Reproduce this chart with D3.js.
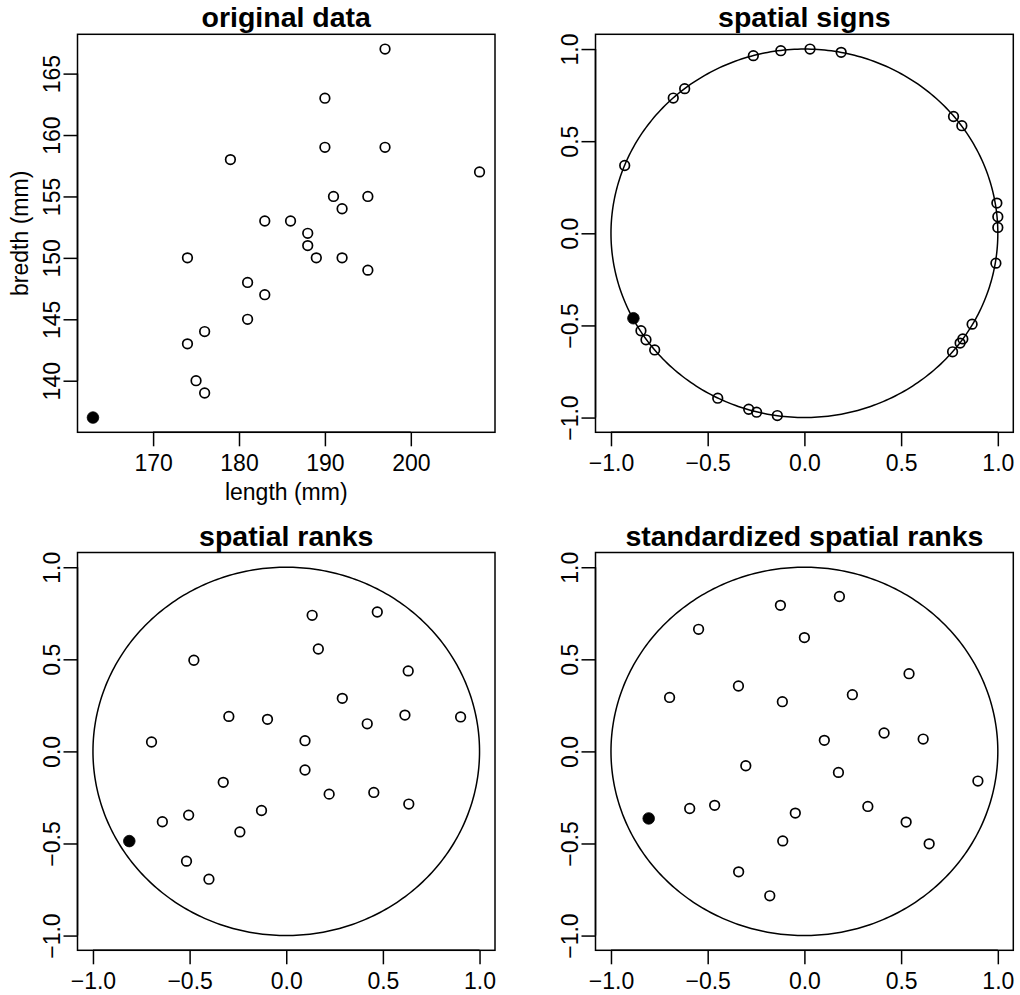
<!DOCTYPE html>
<html>
<head>
<meta charset="utf-8">
<script src="https://cdn.jsdelivr.net/npm/d3@7"></script>
<style>
  html, body { margin: 0; padding: 0; background: #fff; }
  svg { display: block; font-family: "Liberation Sans", Arial, Helvetica, sans-serif; }
</style>
</head>
<body>
<svg id="chart" width="1020" height="995"></svg>
<script>
// original data: head length / breadth (mm)
const lengthMm = [191, 195, 181, 183, 176, 208, 189, 197, 188, 192, 179, 183, 174, 190, 188, 163, 195, 186, 181, 175, 192, 174, 176, 197, 190];
const breadthMm = [155, 149, 148, 153, 144, 157, 150, 159, 152, 150, 158, 147, 150, 159, 151, 137, 155, 153, 145, 140, 154, 143, 139, 167, 163];
const originalHighlight = 15;

// spatial signs (first point is the highlighted one)
const signX = [-0.884, -0.264, -0.122, 0.029, 0.190, -0.678, -0.619, 0.771, 0.814, -0.929, 0.995, 1.000, 1.000, 0.990, -0.845, -0.819, -0.774, 0.867, 0.819, 0.805, 0.766, -0.448, -0.288, -0.247, -0.140];
const signY = [-0.461, 0.964, 0.991, 1.000, 0.982, 0.734, 0.785, 0.634, 0.584, 0.368, 0.164, 0.090, 0.032, -0.162, -0.529, -0.578, -0.633, -0.493, -0.573, -0.596, -0.643, -0.895, -0.955, -0.971, -0.989];

// spatial ranks
const rankX = [-0.812, 0.134, 0.471, 0.166, -0.478, 0.631, 0.290, -0.297, -0.097, 0.614, 0.902, 0.419, -0.697, 0.097, 0.097, -0.326, 0.222, 0.453, 0.634, -0.128, -0.505, -0.641, -0.240, -0.516, -0.400];
const rankY = [-0.487, 0.739, 0.757, 0.556, 0.495, 0.437, 0.288, 0.190, 0.174, 0.197, 0.187, 0.150, 0.051, 0.058, -0.101, -0.168, -0.232, -0.223, -0.286, -0.321, -0.346, -0.382, -0.437, -0.596, -0.694];

// standardized spatial ranks
const stdRankX = [-0.805, 0.181, -0.124, -0.547, 0.000, 0.541, -0.341, -0.697, -0.114, 0.248, 0.412, 0.614, 0.103, -0.303, 0.176, 0.897, -0.464, -0.593, 0.328, -0.047, 0.526, -0.112, 0.645, -0.340, -0.179];
const stdRankY = [-0.364, 0.841, 0.793, 0.663, 0.618, 0.422, 0.355, 0.293, 0.270, 0.308, 0.100, 0.067, 0.060, -0.078, -0.114, -0.161, -0.293, -0.310, -0.299, -0.335, -0.384, -0.486, -0.502, -0.654, -0.784];

const unitTicks = [-1.0, -0.5, 0.0, 0.5, 1.0];
const lengthTicks = [170, 180, 190, 200];
const breadthTicks = [140, 145, 150, 155, 160, 165];

const svg = d3.select('#chart');
const TICK_FONT = 23;
const TITLE_FONT = 28.5;
const LINE_W = 1.5;
const fmtUnit = (d) => d3.format('.1f')(d).replace('-', '\u2212');

// R style range: data range expanded by 4% each side
function rDomain(vals) {
    const [lo, hi] = d3.extent(vals);
    const pad = (hi - lo) * 0.04;
    return [lo - pad, hi + pad];
}

function drawPanel(p) {
    const x = d3.scaleLinear().domain(p.xDomain).range([p.left, p.right]);
    const y = d3.scaleLinear().domain(p.yDomain).range([p.bottom, p.top]);
    const g = svg.append('g');

    // unit circle
    if (p.circle) {
        const angles = d3.range(0, 361, 1).map((a) => (a * Math.PI) / 180);
        const line = d3
            .line()
            .x((a) => x(Math.cos(a)))
            .y((a) => y(Math.sin(a)));
        g.append('path')
            .attr('d', line(angles))
            .attr('fill', 'none')
            .attr('stroke', '#000')
            .attr('stroke-width', LINE_W);
    }

    // points
    g.append('g')
        .selectAll('circle')
        .data(p.xs.map((v, i) => ({ x: v, y: p.ys[i], hi: i === p.highlight })))
        .enter()
        .append('circle')
        .attr('cx', (d) => x(d.x))
        .attr('cy', (d) => y(d.y))
        .attr('r', (d) => (d.hi ? 5.8 : 4.8))
        .attr('fill', (d) => (d.hi ? '#000' : 'none'))
        .attr('stroke', '#000')
        .attr('stroke-width', (d) => (d.hi ? 0.8 : 1.7));

    // box
    g.append('rect')
        .attr('x', p.left)
        .attr('y', p.top)
        .attr('width', p.right - p.left)
        .attr('height', p.bottom - p.top)
        .attr('fill', 'none')
        .attr('stroke', '#000')
        .attr('stroke-width', LINE_W);

    // x axis
    const xAxis = d3
        .axisBottom(x)
        .tickValues(p.xTicks)
        .tickSize(14)
        .tickPadding(6)
        .tickFormat(p.fmt);
    const gx = g.append('g').attr('transform', `translate(0,${p.bottom})`).call(xAxis);
    gx.select('.domain')
        .attr('d', `M${x(p.xTicks[0])},0H${x(p.xTicks[p.xTicks.length - 1])}`)
        .attr('stroke-width', LINE_W);
    gx.selectAll('.tick line').attr('stroke-width', LINE_W);
    gx.selectAll('.tick text')
        .attr('font-size', TICK_FONT)
        .attr('font-family', '"Liberation Sans", Arial, sans-serif')
        .attr('fill', '#000')
        .attr('dy', null)
        .attr('y', 38.4);

    // y axis (rotated labels, like R las=0)
    const yAxis = d3.axisLeft(y).tickValues(p.yTicks).tickSize(14).tickFormat(p.fmt);
    const gy = g.append('g').attr('transform', `translate(${p.left},0)`).call(yAxis);
    gy.select('.domain')
        .attr('d', `M0,${y(p.yTicks[0])}V${y(p.yTicks[p.yTicks.length - 1])}`)
        .attr('stroke-width', LINE_W);
    gy.selectAll('.tick line').attr('stroke-width', LINE_W);
    gy.selectAll('.tick text')
        .attr('font-size', TICK_FONT)
        .attr('font-family', '"Liberation Sans", Arial, sans-serif')
        .attr('fill', '#000')
        .attr('x', null)
        .attr('dy', null)
        .attr('text-anchor', 'middle')
        .attr('transform', 'translate(-18,0) rotate(-90)');

    // title
    svg.append('text')
        .attr('x', (p.left + p.right) / 2)
        .attr('y', p.top - 7)
        .attr('text-anchor', 'middle')
        .attr('font-weight', 'bold')
        .attr('font-size', TITLE_FONT)
        .text(p.title);

    if (p.xlab) {
        svg.append('text')
            .attr('x', (p.left + p.right) / 2)
            .attr('y', p.bottom + 68)
            .attr('text-anchor', 'middle')
            .attr('font-size', TICK_FONT)
            .text(p.xlab);
    }
    if (p.ylab) {
        svg.append('text')
            .attr('transform', `translate(${p.left - 50},${(p.top + p.bottom) / 2}) rotate(-90)`)
            .attr('text-anchor', 'middle')
            .attr('font-size', TICK_FONT)
            .text(p.ylab);
    }
}

const unitDomain = rDomain([-1, 1]);

drawPanel({
    title: 'original data',
    left: 77.5, right: 495, top: 34.3, bottom: 432.3,
    xs: lengthMm, ys: breadthMm, highlight: originalHighlight,
    xDomain: rDomain(lengthMm), yDomain: rDomain(breadthMm),
    xTicks: lengthTicks, yTicks: breadthTicks, fmt: d3.format('d'),
    xlab: 'length (mm)', ylab: 'bredth (mm)'
});
drawPanel({
    title: 'spatial signs',
    left: 595.5, right: 1013.3, top: 34.3, bottom: 432.3,
    xs: signX, ys: signY, highlight: 0, circle: true,
    xDomain: unitDomain, yDomain: unitDomain,
    xTicks: unitTicks, yTicks: unitTicks, fmt: fmtUnit
});
drawPanel({
    title: 'spatial ranks',
    left: 77.5, right: 495, top: 552.5, bottom: 950.3,
    xs: rankX, ys: rankY, highlight: 0, circle: true,
    xDomain: unitDomain, yDomain: unitDomain,
    xTicks: unitTicks, yTicks: unitTicks, fmt: fmtUnit
});
drawPanel({
    title: 'standardized spatial ranks',
    left: 595.5, right: 1013.3, top: 552.5, bottom: 950.3,
    xs: stdRankX, ys: stdRankY, highlight: 0, circle: true,
    xDomain: unitDomain, yDomain: unitDomain,
    xTicks: unitTicks, yTicks: unitTicks, fmt: fmtUnit
});
</script>
</body>
</html>
